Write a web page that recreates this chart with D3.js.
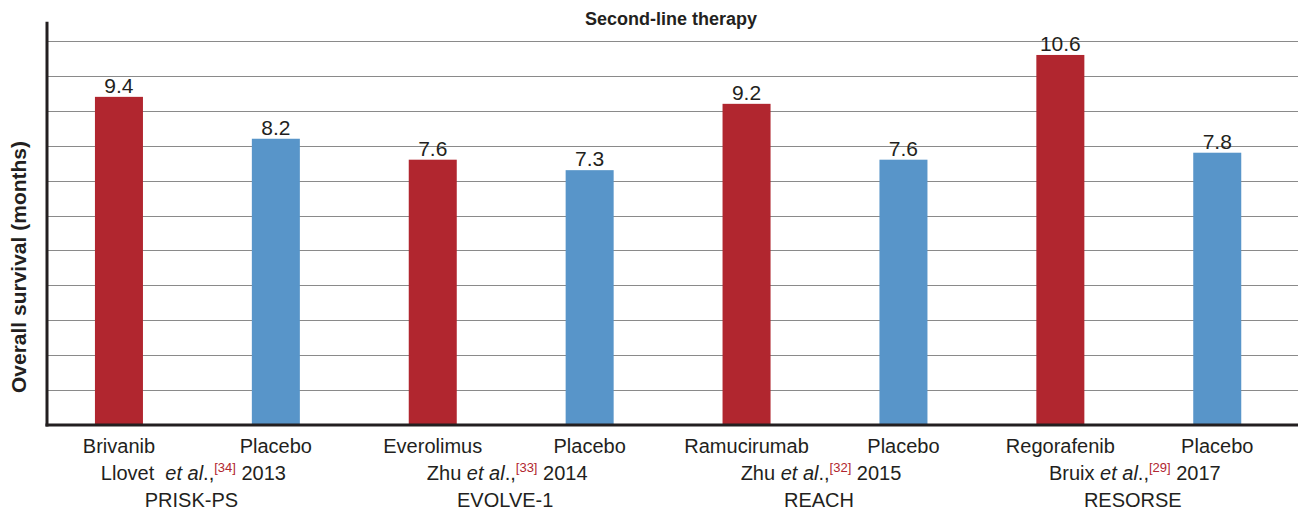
<!DOCTYPE html>
<html>
<head>
<meta charset="utf-8">
<script src="https://cdn.jsdelivr.net/npm/d3@7"></script>
<style>
  body { margin: 0; background: #fff; }
  text { font-family: "Liberation Sans", Arial, sans-serif; fill: #231f20; }
</style>
</head>
<body>
<div id="chart"></div>
<script>
var treatments = ['Brivanib', 'Placebo', 'Everolimus', 'Placebo', 'Ramucirumab', 'Placebo', 'Regorafenib', 'Placebo'];
var survival = [9.4, 8.2, 7.6, 7.3, 9.2, 7.6, 10.6, 7.8];
var arms = ['drug', 'placebo', 'drug', 'placebo', 'drug', 'placebo', 'drug', 'placebo'];
var studyAuthors = ['Llovet\u00a0 ', 'Zhu ', 'Zhu ', 'Bruix '];
var studyRefs = ['[34]', '[33]', '[32]', '[29]'];
var studyYears = ['2013', '2014', '2015', '2017'];
var trialNames = ['PRISK-PS', 'EVOLVE-1', 'REACH', 'RESORSE'];
var gridValues = [1, 2, 3, 4, 5, 6, 7, 8, 9, 10, 11];

var width = 1298, height = 510;
var colors = {drug: '#b1262f', placebo: '#5895c9'};

var svg = d3.select('#chart')
  .append('svg')
    .attr('width', width)
    .attr('height', height);

// scales
var x = d3.scaleBand()
    .domain(d3.range(treatments.length))
    .range([40.5, 1295.7])
    .paddingInner(0.694)
    .paddingOuter(0.347);

var y = d3.scaleLinear()
    .domain([0, 11])
    .range([425, 41]);

// gridlines
svg.append('g')
  .selectAll('line')
  .data(gridValues)
  .enter()
  .append('line')
    .attr('x1', 48)
    .attr('x2', width)
    .attr('y1', function(d) { return Math.round(y(d)) + 0.5; })
    .attr('y2', function(d) { return Math.round(y(d)) + 0.5; })
    .attr('stroke', '#8a8a8a')
    .attr('stroke-width', 1);

// bars
svg.selectAll('.bar')
  .data(survival)
  .enter()
  .append('rect')
    .attr('class', 'bar')
    .attr('x', function(d, i) { return x(i); })
    .attr('y', function(d) { return y(d); })
    .attr('width', x.bandwidth())
    .attr('height', function(d) { return y(0) - y(d); })
    .attr('fill', function(d, i) { return colors[arms[i]]; });

// value labels
svg.selectAll('.val')
  .data(survival)
  .enter()
  .append('text')
    .attr('x', function(d, i) { return x(i) + x.bandwidth() / 2; })
    .attr('y', function(d) { return y(d) - 4; })
    .attr('text-anchor', 'middle')
    .style('font-size', '21px')
    .text(function(d) { return d; });

// axes lines
svg.append('line')
    .attr('x1', 47).attr('x2', 47)
    .attr('y1', y(11.55)).attr('y2', y(0) + 1.5)
    .attr('stroke', '#231f20')
    .attr('stroke-width', 3);
svg.append('line')
    .attr('x1', 45.5).attr('x2', width)
    .attr('y1', y(0)).attr('y2', y(0))
    .attr('stroke', '#231f20')
    .attr('stroke-width', 3);

// treatment labels
svg.selectAll('.cat')
  .data(treatments)
  .enter()
  .append('text')
    .attr('x', function(d, i) { return x(i) + x.bandwidth() / 2; })
    .attr('y', 453)
    .attr('text-anchor', 'middle')
    .style('font-size', '20px')
    .text(function(d) { return d; });

// study lines
var mid = function(k) { return (x(2 * k) + x(2 * k + 1) + x.bandwidth()) / 2; };

var study = svg.selectAll('.study')
  .data(studyAuthors)
  .enter()
  .append('text')
    .attr('x', function(d, k) { return mid(k) - 4; })
    .attr('y', 480)
    .attr('text-anchor', 'middle')
    .style('font-size', '20px');
study.append('tspan').text(function(d) { return d; });
study.append('tspan').style('font-style', 'italic').text('et al');
study.append('tspan').text('.,');
study.append('tspan')
    .attr('dy', -8)
    .style('font-size', '13px')
    .style('fill', '#b1262f')
    .text(function(d, k) { return studyRefs[k]; });
study.append('tspan')
    .attr('dy', 8)
    .text(function(d, k) { return '\u00a0' + studyYears[k]; });

svg.selectAll('.trial')
  .data(trialNames)
  .enter()
  .append('text')
    .attr('x', function(d, k) { return mid(k) - 6; })
    .attr('y', 507)
    .attr('text-anchor', 'middle')
    .style('font-size', '20px')
    .text(function(d) { return d; });

// title
svg.append('text')
    .attr('x', 671)
    .attr('y', 25)
    .attr('text-anchor', 'middle')
    .style('font-size', '18px')
    .style('font-weight', 'bold')
    .text('Second-line therapy');

// y axis title
svg.append('text')
    .attr('transform', 'translate(26,267)rotate(-90)')
    .attr('text-anchor', 'middle')
    .style('font-size', '21px')
    .style('font-weight', 'bold')
    .text('Overall survival (months)');
</script>
</body>
</html>
